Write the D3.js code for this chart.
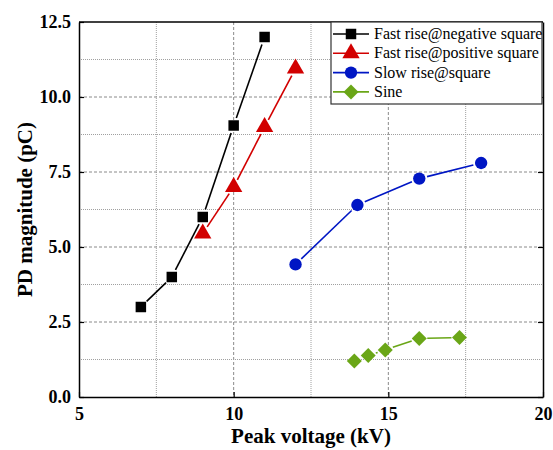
<!DOCTYPE html>
<html>
<head>
<meta charset="utf-8">
<script src="https://cdn.jsdelivr.net/npm/d3@7"></script>
<style>
  body { margin: 0; background: #fff; }
</style>
</head>
<body>
<div id="chart"></div>
<script>
// series
const seriesNames = ["Fast rise@negative square", "Fast rise@positive square", "Slow rise@square", "Sine"];
const negVoltage = [7, 8, 9, 10, 11];
const negPD = [3.0, 4.0, 6.0, 9.05, 12.0];
const posVoltage = [9, 10, 11, 12];
const posPD = [5.45, 7.0, 9.0, 10.95];
const slowVoltage = [12, 14, 16, 18];
const slowPD = [4.42, 6.4, 7.28, 7.8];
const sineVoltage = [13.9, 14.35, 14.9, 16.0, 17.3];
const sinePD = [1.2, 1.38, 1.57, 1.95, 1.98];
const xTicks = [5, 10, 15, 20];
const yTicks = [0, 2.5, 5, 7.5, 10, 12.5];

const serif = "'Liberation Serif', 'Times New Roman', serif";
const colors = ["#000000", "#d20000", "#0016c4", "#6aa617"];
const shapes = [d3.symbolSquare, d3.symbolTriangle, d3.symbolCircle, d3.symbolSquare];
const sizes = [110, 130, 120, 112];
const rotations = [0, 0, 0, 45];

const series = seriesNames.map((name, i) => {
    const xs = [negVoltage, posVoltage, slowVoltage, sineVoltage][i];
    const ys = [negPD, posPD, slowPD, sinePD][i];
    return {name: name, color: colors[i], shape: shapes[i], size: sizes[i], rot: rotations[i],
        points: xs.map((x, j) => ({x: x, y: ys[j]}))};
});

const W = 553, H = 450;
const margin = {top: 22, right: 10, bottom: 53, left: 79};
const width = 543 - margin.left;
const height = 397 - margin.top;

const svg = d3.select("#chart").append("svg")
    .attr("width", W).attr("height", H)
    .style("font-family", serif);
const g = svg.append("g")
    .attr("transform", "translate(" + margin.left + "," + margin.top + ")");

const x = d3.scaleLinear().domain([5, 20]).range([0, width]);
const y = d3.scaleLinear().domain([0, 12.5]).range([height, 0]);

// grid: dashed at major, dotted at minor
const xMinor = [7.5, 12.5, 17.5];
const yMinor = d3.range(1.25, 12.5, 2.5);
g.selectAll("line.gx").data([10, 15]).enter().append("line")
    .attr("x1", d => x(d)).attr("x2", d => x(d)).attr("y1", 0).attr("y2", height)
    .attr("stroke", "#8a8a8a").attr("stroke-width", 1).attr("stroke-dasharray", "3,2");
g.selectAll("line.gxm").data(xMinor).enter().append("line")
    .attr("x1", d => x(d)).attr("x2", d => x(d)).attr("y1", 0).attr("y2", height)
    .attr("stroke", "#a0a0a0").attr("stroke-width", 1).attr("stroke-dasharray", "1,1");
g.selectAll("line.gy").data([2.5, 5, 7.5, 10]).enter().append("line")
    .attr("y1", d => y(d)).attr("y2", d => y(d)).attr("x1", 0).attr("x2", width)
    .attr("stroke", "#8a8a8a").attr("stroke-width", 1).attr("stroke-dasharray", "3,2");
g.selectAll("line.gym").data(yMinor).enter().append("line")
    .attr("y1", d => y(d)).attr("y2", d => y(d)).attr("x1", 0).attr("x2", width)
    .attr("stroke", "#a0a0a0").attr("stroke-width", 1).attr("stroke-dasharray", "1,1");

// axes
const xAxis = d3.axisBottom(x).tickValues(xTicks).tickSizeInner(-5).tickSizeOuter(0).tickPadding(10);
const yAxis = d3.axisLeft(y).tickValues(yTicks).tickSizeInner(-5).tickSizeOuter(0).tickPadding(8)
    .tickFormat(d3.format(".1f"));
const yAxisR = d3.axisRight(y).tickValues(yTicks).tickSizeInner(-5).tickSizeOuter(0).tickFormat("");

g.append("g").attr("transform", "translate(0," + height + ")").call(xAxis);
g.append("g").call(yAxis);
g.append("g").attr("transform", "translate(" + width + ",0)").call(yAxisR);
g.selectAll(".domain").attr("stroke", "#000").attr("stroke-width", 1.5);
g.selectAll(".tick line").attr("stroke", "#000").attr("stroke-width", 1.2);
g.selectAll(".tick text")
    .style("font-family", serif)
    .style("font-size", "18px").style("font-weight", "bold").attr("fill", "#000");

g.append("line").attr("x1", 0).attr("x2", width).attr("y1", 0).attr("y2", 0)
    .attr("stroke", "#000").attr("stroke-width", 1.5);

// axis titles
svg.append("text")
    .attr("x", margin.left + width / 2).attr("y", 443)
    .attr("text-anchor", "middle")
    .style("font-size", "21px").style("font-weight", "bold")
    .text("Peak voltage (kV)");
svg.append("text")
    .attr("transform", "translate(32," + (margin.top + height / 2) + ") rotate(-90)")
    .attr("text-anchor", "middle")
    .style("font-size", "21px").style("font-weight", "bold")
    .text("PD magnitude (pC)");

// lines with a small gap around markers
const gap = 8;
series.forEach(s => {
    for (let j = 0; j < s.points.length - 1; j++) {
        const a = s.points[j], b = s.points[j + 1];
        const x1 = x(a.x), y1 = y(a.y), x2 = x(b.x), y2 = y(b.y);
        const len = Math.hypot(x2 - x1, y2 - y1);
        if (len <= 2 * gap) continue;
        const ux = (x2 - x1) / len, uy = (y2 - y1) / len;
        g.append("line")
            .attr("x1", x1 + ux * gap).attr("y1", y1 + uy * gap)
            .attr("x2", x2 - ux * gap).attr("y2", y2 - uy * gap)
            .attr("stroke", s.color).attr("stroke-width", 1.6);
    }
    g.selectAll(null).data(s.points).enter().append("path")
        .attr("d", d3.symbol().type(s.shape).size(s.size))
        .attr("transform", d => "translate(" + x(d.x) + "," + y(d.y) + ") rotate(" + s.rot + ")")
        .attr("fill", s.color);
});

// legend
const legend = svg.append("g").attr("transform", "translate(331,22)");
legend.append("rect").attr("width", 211).attr("height", 82)
    .attr("fill", "#fff").attr("stroke", "#333").attr("stroke-width", 1.2);
series.forEach((s, i) => {
    const ly = 12 + i * 19.3;
    const row = legend.append("g").attr("transform", "translate(0," + ly + ")");
    row.append("line").attr("x1", 2).attr("x2", 38).attr("y1", 0).attr("y2", 0)
        .attr("stroke", s.color).attr("stroke-width", 1.6);
    row.append("path").attr("d", d3.symbol().type(s.shape).size(s.size))
        .attr("transform", "translate(20,0) rotate(" + s.rot + ")").attr("fill", s.color);
    row.append("text").attr("x", 43).attr("y", 5)
        .style("font-family", serif)
        .style("font-size", "16px").attr("fill", "#000").text(s.name);
});
</script>
</body>
</html>
